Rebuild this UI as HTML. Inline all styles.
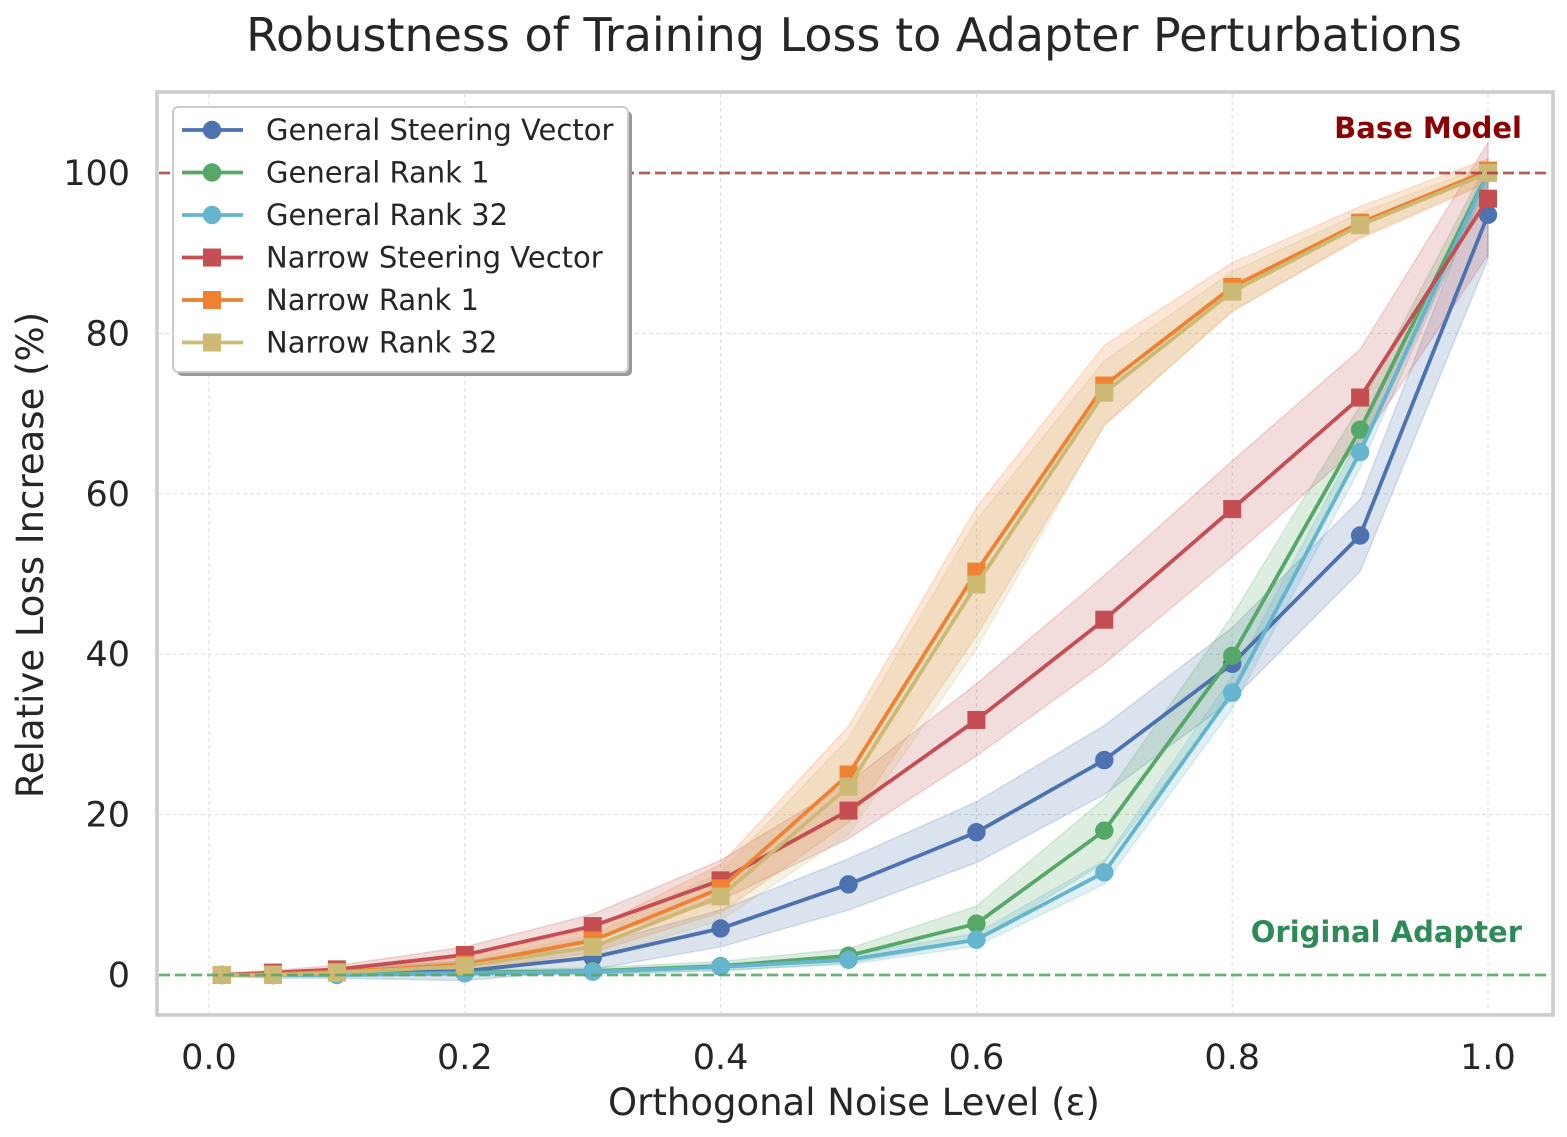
<!DOCTYPE html>
<html><head><meta charset="utf-8"><style>
html,body{margin:0;padding:0;background:#fff;}
svg{display:block;font-family:"DejaVu Sans","Liberation Sans",sans-serif;}
</style></head><body>
<svg id="chart" width="1567" height="1137" viewBox="0 0 1567 1137">
<text x="854" y="51" font-size="46" fill="#262626" text-anchor="middle">Robustness of Training Loss to Adapter Perturbations</text>
<g id="grid"></g>
<g id="bands"></g>
<g id="series"></g>
<g id="refs"></g>
<rect x="157" y="92" width="1396" height="923" fill="none" stroke="#cccccc" stroke-width="3.6"/>
<g id="ticks"></g>
<text x="854" y="1115" font-size="37" fill="#262626" text-anchor="middle">Orthogonal Noise Level (ε)</text>
<text transform="translate(43,555) rotate(-90)" font-size="37" fill="#262626" text-anchor="middle">Relative Loss Increase (%)</text>
<text x="1522" y="138" font-size="29" font-weight="bold" fill="#8b0000" text-anchor="end">Base Model</text>
<text x="1522" y="942" font-size="29" font-weight="bold" fill="#2e8b57" text-anchor="end">Original Adapter</text>
<g id="legend"></g>
</svg>
<script>
const xs = [0.01,0.05,0.1,0.2,0.3,0.4,0.5,0.6,0.7,0.8,0.9,1.0];
const names = ["General Steering Vector","General Rank 1","General Rank 32","Narrow Steering Vector","Narrow Rank 1","Narrow Rank 32"];
const genSV = [0,0,0.2,0.5,2.2,5.8,11.3,17.8,26.8,38.8,54.8,94.8];
const genR1 = [0,0,0.1,0.3,0.5,1.1,2.4,6.4,18,39.8,68,100];
const genR32 = [0,0,0,0.2,0.4,1.0,1.9,4.4,12.8,35.2,65.2,100];
const narSV = [0,0.3,0.7,2.5,6.1,11.8,20.5,31.8,44.3,58.1,72,96.8];
const narR1 = [0,0.1,0.4,1.3,4.3,10.8,25,50.3,73.5,85.8,93.8,100.3];
const narR32 = [0,0,0.3,1.1,3.5,9.8,23.5,48.7,72.6,85.2,93.5,100];
const sdGenSV = [0.2,0.4,0.6,1.2,1.5,2.3,3.2,3.8,4.3,4.5,4.5,5.5];
const sdGenR1 = [0.1,0.1,0.2,0.3,0.4,0.6,0.9,2.2,4,5,3,1.5];
const sdGenR32 = [0.1,0.1,0.2,0.2,0.3,0.4,0.6,0.8,1.5,2,2,1];
const sdNarSV = [0.2,0.3,0.5,1,1.5,2.5,3.5,4.5,5.5,6,6,7];
const sdNarR1 = [0.1,0.2,0.4,0.8,1.5,3,6,8,5,3,2,1.5];
const sdNarR32 = [0.1,0.2,0.4,0.8,1.5,3,6,8,4,2.5,1.5,1];
const xTicks = [0,0.2,0.4,0.6,0.8,1.0];
const xTickLabels = ["0.0","0.2","0.4","0.6","0.8","1.0"];
const yTicks = [0,20,40,60,80,100];
const yTickLabels = ["0","20","40","60","80","100"];

const NS="http://www.w3.org/2000/svg";
const X = v => 209 + v*1279;
const Y = v => 975 - v*8.02;
function mk(tag, attrs, parent){const e=document.createElementNS(NS,tag);for(const k in attrs)e.setAttribute(k,attrs[k]);parent.appendChild(e);return e;}
const series=[
 {vals:genSV,sd:sdGenSV,color:"#4c72b0",m:"c"},
 {vals:genR1,sd:sdGenR1,color:"#55a868",m:"c"},
 {vals:genR32,sd:sdGenR32,color:"#64b5cd",m:"c"},
 {vals:narSV,sd:sdNarSV,color:"#c44e52",m:"s"},
 {vals:narR1,sd:sdNarR1,color:"#ee8232",m:"s"},
 {vals:narR32,sd:sdNarR32,color:"#ccb974",m:"s"}];
const grid=document.getElementById('grid'),ticks=document.getElementById('ticks');
xTicks.forEach((t,i)=>{
 const l=mk('line',{x1:X(t),x2:X(t),y1:94,y2:1013,stroke:"#dddddd","stroke-width":1,"stroke-dasharray":"4,3"},grid);
 
 
 const tx=mk('text',{x:X(t),y:1069,"font-size":35,fill:"#262626","text-anchor":"middle"},ticks);
 tx.textContent=xTickLabels[i];
 
 
});
yTicks.forEach((t,i)=>{
 const l=mk('line',{x1:159,x2:1551,y1:Y(t),y2:Y(t),stroke:"#dddddd","stroke-width":1,"stroke-dasharray":"4,3"},grid);
 
 
 const tx=mk('text',{x:130,y:Y(t)+12,"font-size":35,fill:"#262626","text-anchor":"end"},ticks);
 tx.textContent=yTickLabels[i];
 
 
});
const bands=document.getElementById('bands'),sg=document.getElementById('series');
series.forEach((s,si)=>{
 const up=xs.map((x,i)=>X(x)+','+Y(s.vals[i]+s.sd[i]));
 const lo=xs.map((x,i)=>X(x)+','+Y(s.vals[i]-s.sd[i])).reverse();
 const b=mk('polygon',{points:up.concat(lo).join(' '),fill:s.color,"fill-opacity":0.2,stroke:s.color,"stroke-opacity":0.2,"stroke-width":1.5},bands);
 
 
 const g=mk('g',{},sg);
 
 
 const pl=mk('polyline',{points:xs.map((x,i)=>X(x)+','+Y(s.vals[i])).join(' '),fill:"none",stroke:s.color,"stroke-width":3.8},g);
 
 
 xs.forEach((x,i)=>{
  let p;
  if(s.m==='c') p=mk('circle',{cx:X(x),cy:Y(s.vals[i]),r:9.2,fill:s.color},g);
  else p=mk('rect',{x:X(x)-9,y:Y(s.vals[i])-9,width:18,height:18,fill:s.color},g);
  
  
 });
});
const refs=document.getElementById('refs');
let r1=mk('line',{x1:159,x2:1551,y1:Y(100),y2:Y(100),stroke:"#a83232","stroke-opacity":0.8,"stroke-width":2.8,"stroke-dasharray":"11,5"},refs);


let r2=mk('line',{x1:159,x2:1551,y1:Y(0),y2:Y(0),stroke:"#55a868","stroke-opacity":0.9,"stroke-width":2.8,"stroke-dasharray":"11,5"},refs);


const lg=document.getElementById('legend');
mk('rect',{x:177,y:111,width:455,height:265,rx:5,fill:"#999"},lg);
mk('rect',{x:173,y:107,width:455,height:265,rx:5,fill:"#fff",stroke:"#cccccc","stroke-width":2},lg);
series.forEach((s,i)=>{
 const y=130+i*42.5;
 const e=mk('g',{},lg);
 
 
 mk('line',{x1:182,x2:243,y1:y,y2:y,stroke:s.color,"stroke-width":3.8},e);
 if(s.m==='c') mk('circle',{cx:212,cy:y,r:9.2,fill:s.color},e);
 else mk('rect',{x:203,y:y-9,width:18,height:18,fill:s.color},e);
 const t=mk('text',{x:266,y:y+10,"font-size":29,fill:"#262626"},e);
 t.textContent=names[i];
});
</script>
</body></html>
